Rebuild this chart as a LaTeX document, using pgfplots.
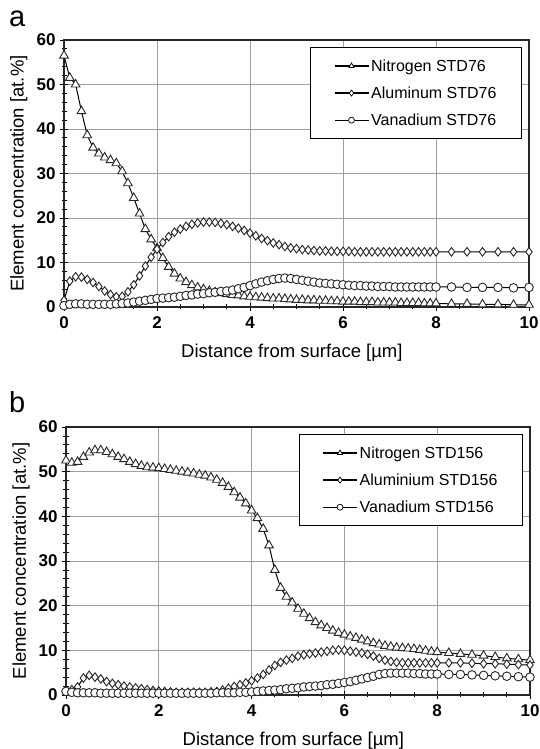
\documentclass[border=0pt]{standalone}
\usepackage{fontspec}
\setmainfont{Liberation Sans}
\usepackage{pgfplots}
\usepackage{pgfplotstable}
\pgfplotsset{compat=1.18}

% panel a: STD76
\pgfplotstableread{
x      N     Al    V
0      56.5  1.5   0.3
0.125  51.5  5.8   0.6
0.25   50.0  6.8   0.7
0.375  44.0  6.7   0.7
0.5    38.6  6.2   0.6
0.625  35.8  5.5   0.6
0.75   34.5  4.6   0.6
0.875  33.6  3.6   0.6
1.0    33.0  2.8   0.6
1.125  32.3  2.3   0.7
1.25   30.5  2.4   0.8
1.375  27.8  3.4   0.9
1.5    24.5  5.0   1.1
1.625  21.0  7.0   1.3
1.75   17.5  9.2   1.5
1.875  15.2  11.2  1.7
2.0    13.2  13.0  1.9
2.125  11.0  14.5  2.0
2.25   9.0   15.8  2.1
2.375  7.5   16.8  2.2
2.5    6.4   17.5  2.4
2.625  5.6   18.1  2.6
2.75   4.9   18.6  2.7
2.875  4.4   18.9  2.9
3.0    4.0   19.1  3.0
3.125  3.6   19.1  3.2
3.25   3.3   19.0  3.3
3.375  3.1   18.8  3.5
3.5    2.9   18.5  3.6
3.625  2.7   18.1  3.8
3.75   2.6   17.7  4.1
3.875  2.4   17.2  4.4
4.0    2.3   16.6  4.8
4.125  2.2   16.0  5.2
4.25   2.1   15.4  5.6
4.375  2.0   14.9  5.9
4.5    1.9   14.4  6.2
4.625  1.9   14.0  6.4
4.75   1.8   13.6  6.5
4.875  1.7   13.3  6.4
5.0    1.6   13.1  6.2
5.125  1.6   12.9  6.0
5.25   1.5   12.8  5.8
5.375  1.5   12.7  5.6
5.5    1.4   12.6  5.4
5.625  1.4   12.6  5.3
5.75   1.3   12.5  5.2
5.875  1.3   12.5  5.1
6.0    1.2   12.5  5.0
6.125  1.2   12.5  4.9
6.25   1.2   12.4  4.8
6.375  1.1   12.4  4.8
6.5    1.1   12.4  4.7
6.625  1.1   12.4  4.7
6.75   1.0   12.4  4.6
6.875  1.0   12.4  4.6
7.0    1.0   12.4  4.6
7.125  1.0   12.4  4.5
7.25   0.9   12.4  4.5
7.375  0.9   12.4  4.5
7.5    0.9   12.4  4.5
7.625  0.9   12.4  4.5
7.75   0.8   12.4  4.5
7.875  0.8   12.4  4.5
8.0    0.8   12.4  4.5
8.333  0.7   12.4  4.5
8.667  0.7   12.4  4.4
9.0    0.6   12.4  4.4
9.333  0.6   12.4  4.4
9.667  0.5   12.4  4.3
10.0   0.5   12.4  4.4
}\dataA

% panel b: STD156
\pgfplotstableread{
x      N     Al    V
0      52.5  1.0   0.8
0.125  52.0  1.2   0.6
0.25   52.2  1.8   0.5
0.375  53.3  3.8   0.5
0.5    54.3  4.4   0.5
0.625  54.8  4.0   0.5
0.75   54.8  3.6   0.4
0.875  54.4  3.0   0.4
1.0    53.9  2.6   0.4
1.125  53.3  2.3   0.4
1.25   52.8  2.0   0.4
1.375  52.2  1.8   0.4
1.5    51.7  1.6   0.4
1.625  51.3  1.4   0.4
1.75   51.0  1.2   0.4
1.875  50.9  1.0   0.4
2.0    50.8  0.9   0.4
2.125  50.6  0.8   0.4
2.25   50.4  0.7   0.4
2.375  50.2  0.6   0.4
2.5    50.0  0.6   0.4
2.625  49.8  0.6   0.4
2.75   49.6  0.6   0.4
2.875  49.3  0.6   0.4
3.0    49.1  0.6   0.4
3.125  48.7  0.7   0.4
3.25   48.2  0.8   0.5
3.375  47.5  1.1   0.5
3.5    46.6  1.5   0.5
3.625  45.4  1.9   0.5
3.75   44.2  2.3   0.6
3.875  42.9  2.7   0.6
4.0    41.3  3.2   0.7
4.125  39.6  3.8   0.8
4.25   37.2  4.6   0.9
4.375  33.5  5.6   1.0
4.5    28.0  6.6   1.1
4.625  24.0  7.3   1.2
4.75   22.0  7.8   1.4
4.875  20.7  8.2   1.5
5.0    19.3  8.7   1.6
5.125  18.2  9.0   1.8
5.25   17.2  9.2   1.9
5.375  16.3  9.4   2.0
5.5    15.6  9.6   2.1
5.625  15.0  9.8   2.3
5.75   14.4  10.0  2.4
5.875  13.9  10.1  2.6
6.0    13.5  10.0  2.8
6.125  13.1  9.8   3.0
6.25   12.8  9.6   3.3
6.375  12.4  9.4   3.6
6.5    12.0  9.1   3.9
6.625  11.6  8.7   4.2
6.75   11.3  8.2   4.6
6.875  11.0  7.8   4.8
7.0    10.8  7.5   4.9
7.125  10.6  7.3   4.9
7.25   10.5  7.2   4.9
7.375  10.4  7.2   4.9
7.5    10.3  7.2   4.8
7.625  10.1  7.2   4.8
7.75   9.9   7.2   4.7
7.875  9.7   7.2   4.7
8.0    9.6   7.2   4.7
8.25   9.4   7.2   4.6
8.5    9.2   7.2   4.6
8.75   9.0   7.1   4.5
9.0    8.8   7.0   4.4
9.25   8.5   7.0   4.3
9.5    8.2   6.9   4.2
9.75   8.0   6.8   4.1
10.0   7.8   6.7   4.0
}\dataB

\pgfplotsset{
  profile/.style={
    scale only axis,
    xmin=0, xmax=10, ymin=0, ymax=60,
    xtick={0,2,...,10}, ytick={0,10,...,60},
    minor x tick num=3, minor y tick num=4,
    grid=major,
    major grid style={gray!75, line width=0.8pt},
    axis line style={line width=1.2pt, black!85},
    tick align=center,
    xtick pos=bottom, ytick pos=left,
    major tick length=8pt, minor tick length=5pt,
    tick style={black, line width=0.8pt},
    /pgf/number format/assume math mode=true,
    ticklabel style={font=\fontsize{17}{20}\selectfont\bfseries},
    xticklabel style={yshift=-2pt},
    yticklabel style={xshift=-1pt},
    xlabel={Distance from surface [µm]},
    ylabel={Element concentration [at.\%]},
    label style={font=\fontsize{18.5}{22}\selectfont},
    xlabel style={at={(axis description cs:0.49,-0.172)}, anchor=center},
    ylabel style={at={(axis description cs:-0.097,0.5)}, anchor=center},
    legend cell align=left,
    legend style={at={(0.985,0.974)}, anchor=north east,
      font=\fontsize{16}{19}\selectfont, draw=black, line width=1pt,
      inner xsep=23pt, inner ysep=10pt, row sep=10pt},
    legend image code/.code={
      \draw[mark repeat=2, mark phase=2, #1]
        plot coordinates {(0pt,0pt) (17pt,0pt) (34pt,0pt)};},
    legend image post style={mark size=3pt, line width=1.3pt,
      mark options={solid, fill=white, draw=black, line width=0.7pt}},
  },
  ser/.style={black, line width=1pt,
    mark options={solid, fill=white, draw=black!85, line width=0.9pt}},
}

\begin{document}
\begin{tikzpicture}
\useasboundingbox (0pt,0pt) rectangle (539pt,749pt);

\begin{axis}[profile, at={(64pt,442pt)}, anchor=south west,
  width=465pt, height=267pt]
  \addplot[ser, mark=triangle*, mark size=5pt] table[x=x, y=N] {\dataA};
  \addlegendentry{Nitrogen STD76}
  \addplot[ser, mark=diamond*, mark size=4.3pt] table[x=x, y=Al] {\dataA};
  \addlegendentry{Aluminum STD76}
  \addplot[ser, mark=*, mark size=4.3pt] table[x=x, y=V] {\dataA};
  \addlegendentry{Vanadium STD76}
\end{axis}

\begin{axis}[profile, at={(66pt,54pt)}, anchor=south west,
  width=464pt, height=268pt]
  \addplot[ser, mark=triangle*, mark size=5pt] table[x=x, y=N] {\dataB};
  \addlegendentry{Nitrogen STD156}
  \addplot[ser, mark=diamond*, mark size=4.3pt] table[x=x, y=Al] {\dataB};
  \addlegendentry{Aluminium STD156}
  \addplot[ser, mark=*, mark size=4.3pt] table[x=x, y=V] {\dataB};
  \addlegendentry{Vanadium STD156}
\end{axis}

\node[anchor=base west, font=\fontsize{29}{32}\selectfont, inner sep=0pt]
  at (9pt,722pt) {a};
\node[anchor=base west, font=\fontsize{29}{32}\selectfont, inner sep=0pt]
  at (9pt,336pt) {b};
\end{tikzpicture}
\end{document}
